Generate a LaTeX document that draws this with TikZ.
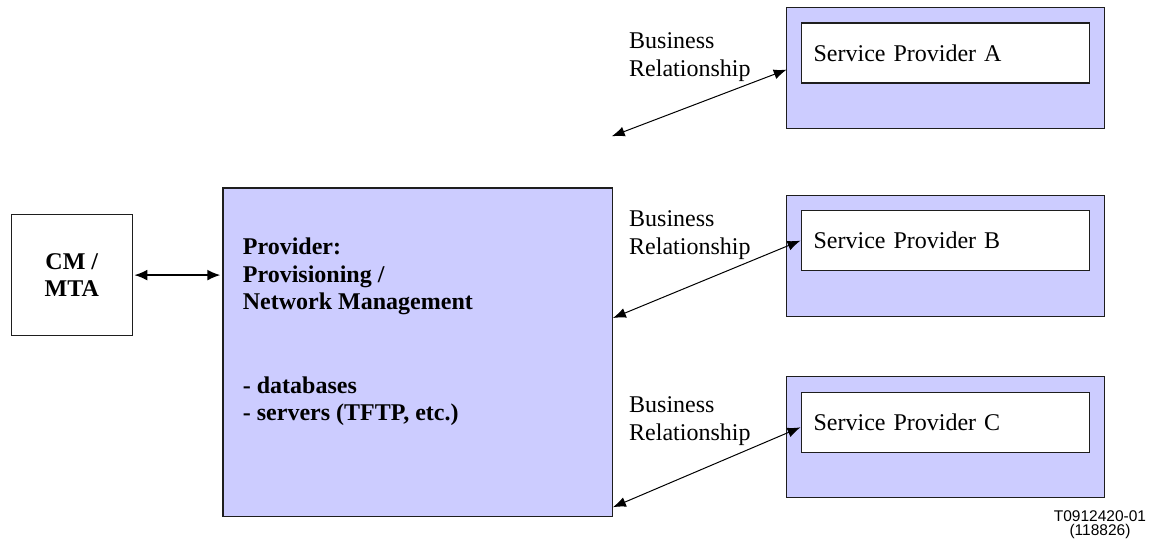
\documentclass[tikz,border=0pt]{standalone}
\usepackage{fontspec}
\setmainfont{Liberation Serif}
\newfontfamily\figsans{Liberation Sans}
\usetikzlibrary{arrows.meta}
\definecolor{lav}{HTML}{CCCCFF}
\definecolor{edge}{HTML}{1E1E1E}

\begin{document}
\begin{tikzpicture}[x=1pt,y=-1pt,
  box/.style={draw=edge, line width=1.2pt, inner sep=0pt, anchor=north west},
  outerbox/.style={box, fill=lav, minimum width=317.8pt, minimum height=121pt},
  innerbox/.style={box, fill=white, minimum height=60pt, text width=263pt,
    inner xsep=12.5pt, align=left, font=\fontsize{24}{27.7}\selectfont},
  lbl/.style={inner sep=0pt, align=left, anchor=base west, font=\fontsize{24}{27.7}\selectfont},
  bold/.style={lbl, font=\fontsize{24}{27.7}\selectfont\bfseries},
  link/.style={line width=1pt, {Latex[length=13pt,width=10pt]}-{Latex[length=13pt,width=10pt]}},
  cmlink/.style={line width=1.6pt, {Latex[length=13pt,width=11pt]}-{Latex[length=13pt,width=11pt]}}
]
\useasboundingbox (0,0) rectangle (1152,544);

% left terminal box
\node[box, fill=white, minimum width=121pt, minimum height=121pt, align=center,
      font=\fontsize{24}{27.7}\selectfont\bfseries] (cm) at (10.7,214) {CM /\\MTA};

% central provisioning block (text anchored on its last baseline)
\node[box, fill=lav, minimum width=389.4pt, minimum height=328.4pt] (prov) at (222.3,187.3) {};
\node[bold] (provtxt) at (242.7,420.7)
  {Provider:\\Provisioning /\\Network Management\\[27.7pt]\\- databases\\- servers (TFTP, etc.)};

% service providers
\node[outerbox] (sao) at (785.7,6.7) {};
\node[innerbox] (sai) at (800.5,22.3) {Service Provider A};
\node[outerbox] (sbo) at (785.7,195) {};
\node[innerbox] (sbi) at (800.5,210) {Service Provider B};
\node[outerbox] (sco) at (785.7,375.7) {};
\node[innerbox] (sci) at (800.5,391.7) {Service Provider C};

% relationship labels
\node[lbl] (bra) at (629,76.3) {Business\\Relationship};
\node[lbl] (brb) at (629,254) {Business\\Relationship};
\node[lbl] (brc) at (629,440.5) {Business\\Relationship};

% connectors
\coordinate (fa) at (611.7,136.3);
\draw[cmlink] ([xshift=1.5pt]cm.east) -- ([xshift=-2pt]cm.east -| prov.west);
\draw[link] (fa) -- ([xshift=1pt,yshift=-1.8pt]sao.west);
\draw[link] ([yshift=-130.7pt]prov.north east) -- (sbi.west);
\draw[link] ([yshift=9.7pt]prov.south east) -- ([yshift=-5pt]sci.west);

% drawing number
\node[inner sep=0pt, align=center, anchor=base, font=\figsans\fontsize{15.5}{14.3}\selectfont]
  (num) at (1100,535.8) {T0912420-01\\(118826)};
\end{tikzpicture}
\end{document}
